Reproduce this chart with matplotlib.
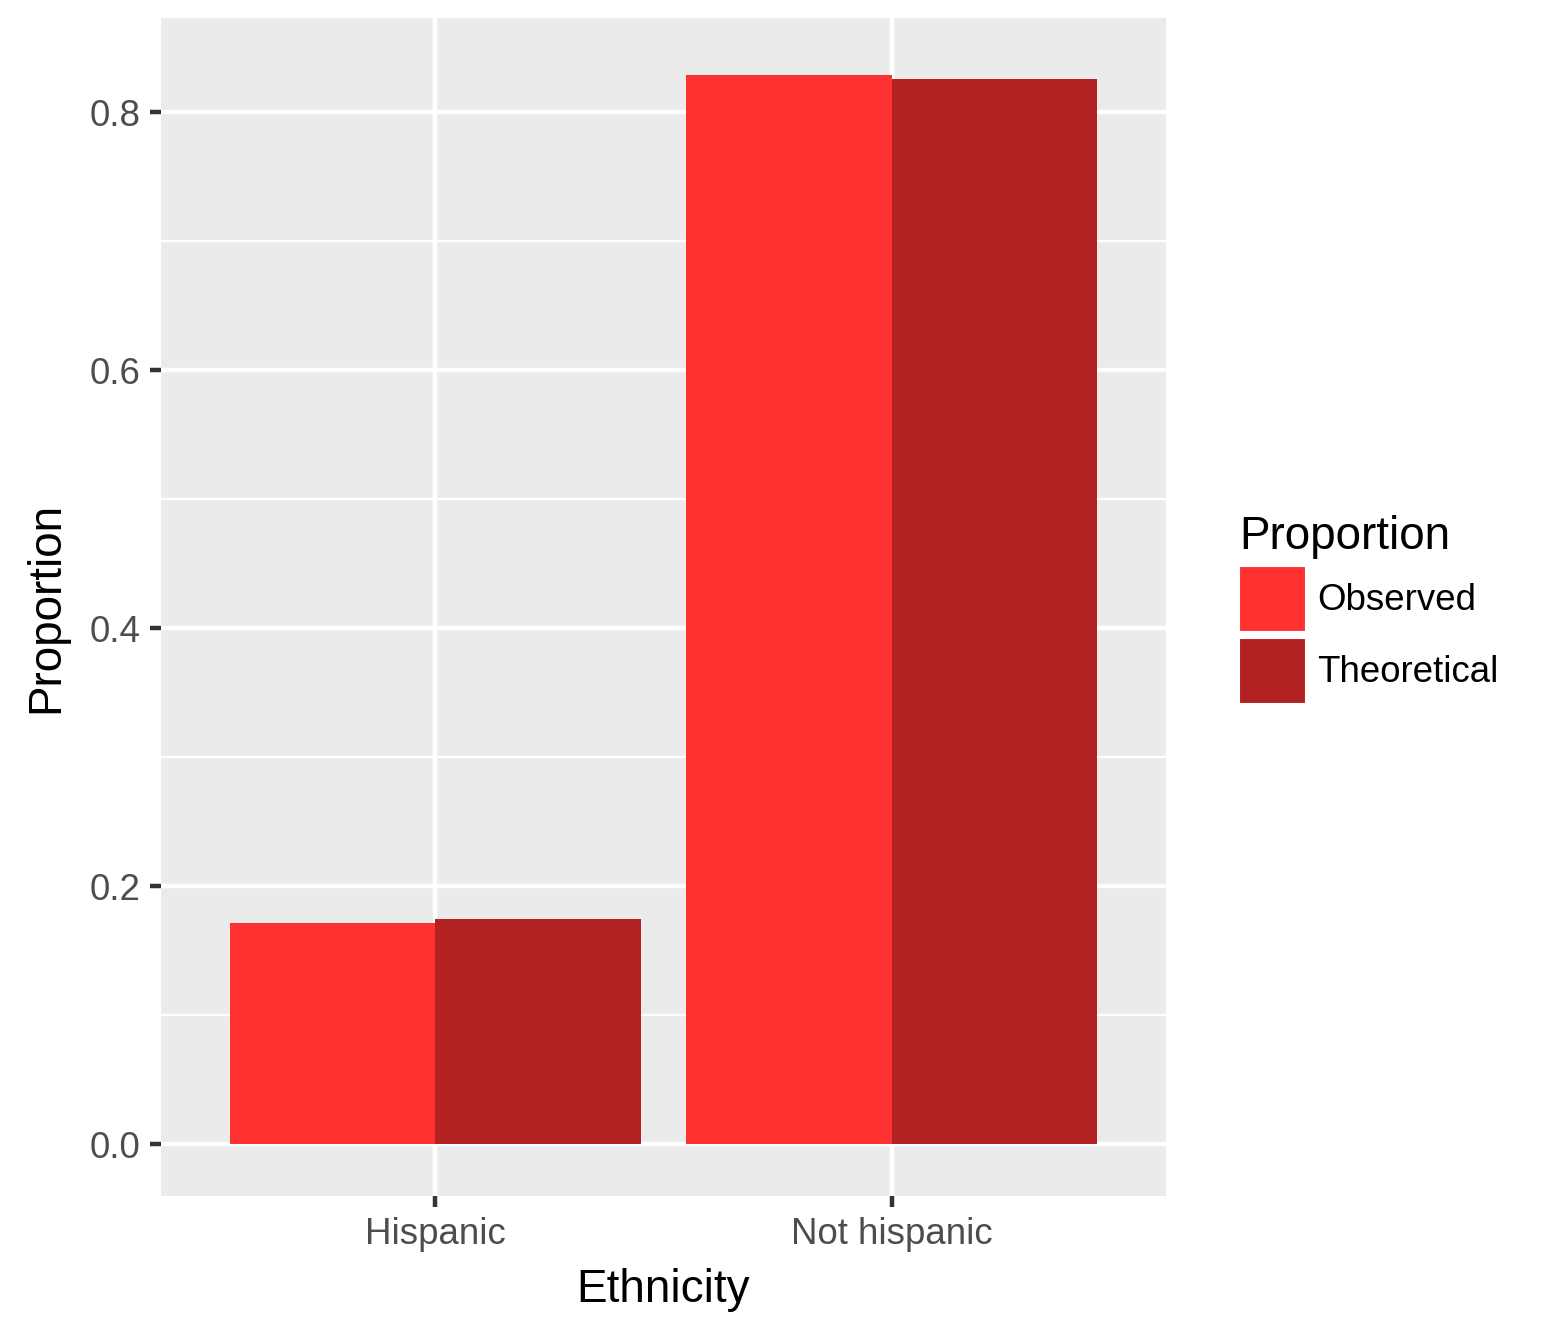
import matplotlib
matplotlib.use("Agg")
import matplotlib.pyplot as plt
from matplotlib.patches import Patch
import numpy as np

plt.rcParams['font.family'] = ['Liberation Sans', 'DejaVu Sans']

categories = ['Hispanic', 'Not hispanic']
groups = ['Observed', 'Theoretical']
observed = [0.1713, 0.8287]
theoretical = [0.1744, 0.8256]
colors = ['#FF3131', '#B22222']
yticks = [0.0, 0.2, 0.4, 0.6, 0.8]

W, H = 1554, 1333
fig = plt.figure(figsize=(W / 300, H / 300), dpi=300)
left, right, top, bottom = 161, 1166, 18, 1196
ax = fig.add_axes([left / W, 1 - bottom / H, (right - left) / W, (bottom - top) / H])
ax.set_facecolor('#EBEBEB')

x = np.arange(1, len(categories) + 1)
bw = 0.45
ax.bar(x - bw / 2, observed, width=bw, color=colors[0], zorder=3, label=groups[0])
ax.bar(x + bw / 2, theoretical, width=bw, color=colors[1], zorder=3, label=groups[1])

ax.set_xlim(0.4, 2.6)
ax.set_ylim(-0.0403, 0.873)
ax.set_xticks(x)
ax.set_xticklabels(categories)
ax.set_yticks(yticks)
ax.set_yticklabels(['%.1f' % v for v in yticks])
ax.set_yticks([0.1, 0.3, 0.5, 0.7], minor=True)

ax.grid(which='major', color='white', lw=1.07, zorder=1)
ax.grid(which='minor', axis='y', color='white', lw=0.53, zorder=1)
for s in ax.spines.values():
    s.set_visible(False)
ax.tick_params(which='major', length=2.75, width=1.07, color='#333333',
               labelcolor='#4D4D4D', labelsize=8.8, pad=2.2)
ax.tick_params(which='minor', length=0)

ax.set_xlabel('Ethnicity', fontsize=11, labelpad=4)
ax.set_ylabel('Proportion', fontsize=11, labelpad=5)

handles = [Patch(facecolor=c, edgecolor='white', lw=0.5) for c in colors]
leg = fig.legend(handles, groups, title='Proportion', loc='upper left',
                 bbox_to_anchor=(1232 / W, 1 - 508 / H), frameon=False,
                 fontsize=8.8, title_fontsize=11, handlelength=1.83,
                 handleheight=2.39, labelspacing=0.17, handletextpad=0.3,
                 borderaxespad=0, borderpad=0.2)
leg._legend_box.align = 'left'

fig.savefig('out.png', dpi=300)
